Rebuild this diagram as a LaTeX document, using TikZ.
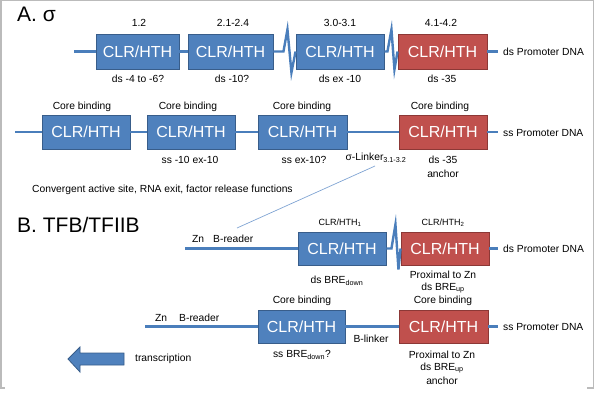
\documentclass[tikz,border=0pt]{standalone}
\usepackage{fontspec}
\setmainfont{Liberation Sans}
\definecolor{boxblue}{HTML}{4F81BD}
\definecolor{boxblueline}{HTML}{385D8A}
\definecolor{boxred}{HTML}{C0504D}
\definecolor{boxredline}{HTML}{8C3836}
\definecolor{wire}{HTML}{4A7EBB}
\definecolor{thinwire}{HTML}{7FA3D3}
\definecolor{frame}{HTML}{BBBBBB}
\tikzset{
  dom/.style={draw=boxblueline, fill=boxblue, line width=0.9pt, text=white, inner sep=0pt,
    font=\fontsize{16}{18}\selectfont},
  domred/.style={dom, draw=boxredline, fill=boxred},
  wireline/.style={draw=wire, line width=2.4pt},
  lab/.style={inner sep=0pt, font=\fontsize{10.3}{12}\selectfont},
  smalllab/.style={inner sep=0pt, font=\fontsize{9}{11}\selectfont},
  title/.style={inner sep=0pt, anchor=west, font=\fontsize{21}{24}\selectfont},
}
\begin{document}
\begin{tikzpicture}[x=1pt,y=-1pt]
\useasboundingbox (0,0) rectangle (595,407);
% frame
\draw[frame, line width=1.2pt] (0,388) -- (5,388);
\draw[frame, line width=1.2pt] (1,388) -- (1,0.6) -- (593.5,0.6) -- (593.5,388) -- (587,388);

% titles
\node[title] (tA) at (17,14) {A. σ};
\node[title] (tB) at (17,225) {B. TFB/TFIIB};

% ---------------- Row 1 ----------------
\node[dom, minimum width=83, minimum height=35] (b11) at (137.5,51.5) {CLR/HTH};
\node[dom, minimum width=85, minimum height=35] (b12) at (230.5,51.5) {CLR/HTH};
\node[dom, minimum width=88, minimum height=35] (b13) at (340,51.5) {CLR/HTH};
\node[domred, minimum width=89, minimum height=35] (b14) at (442.5,51.5) {CLR/HTH};
\coordinate (s1) at (74,51.5);
\coordinate (e1) at (498,51.5);
\draw[wireline] (s1) -- (b11.west);
\draw[wireline] (b11.east) -- (b12.west);
\draw[wireline, line join=miter] (b12.east) -- ++(10,0) -- ++(4,-22) -- ++(4,43) -- (b13.west);
\draw[wireline, line join=miter] (b13.east) -- ++(3,0) -- ++(4,-22) -- ++(3,40) -- (b14.west);
\draw[wireline] (b14.east) -- (e1);
\node[lab, anchor=west] (p1) at (503,52) {ds Promoter DNA};
\node[lab] (t11) at (139,23) {1.2};
\node[lab] (t12) at (233,23) {2.1-2.4};
\node[lab] (t13) at (340,23) {3.0-3.1};
\node[lab] (t14) at (441,23) {4.1-4.2};
\node[lab] (u11) at (138,79) {ds -4 to -6?};
\node[lab] (u12) at (232,79) {ds -10?};
\node[lab] (u13) at (340,79) {ds ex -10};
\node[lab] (u14) at (442,79) {ds -35};

% ---------------- Row 2 ----------------
\node[dom, minimum width=88, minimum height=34] (b21) at (86,132) {CLR/HTH};
\node[dom, minimum width=88, minimum height=34] (b22) at (191,132) {CLR/HTH};
\node[dom, minimum width=89, minimum height=34] (b23) at (302.5,132) {CLR/HTH};
\node[domred, minimum width=88, minimum height=34] (b24) at (443,132) {CLR/HTH};
\coordinate (s2) at (15,132);
\coordinate (e2) at (498,132);
\draw[wireline] (s2) -- (b21.west);
\draw[wireline] (b21.east) -- (b22.west);
\draw[wireline] (b22.east) -- (b23.west);
\draw[wireline] (b23.east) -- (b24.west);
\draw[wireline] (b24.east) -- (e2);
\node[lab, anchor=west] (p2) at (503,133) {ss Promoter DNA};
\node[lab] (t21) at (82,107) {Core binding};
\node[lab] (t22) at (188,107) {Core binding};
\node[lab] (t23) at (302,107) {Core binding};
\node[lab] (t24) at (440,107) {Core binding};
\node[lab] (u22) at (190,160) {ss -10 ex-10};
\node[lab] (u23) at (304,160) {ss ex-10?};
\node[lab] (lk) at (376,158) {σ-Linker\textsubscript{3.1-3.2}};
\node[lab] (u24) at (443,160) {ds -35};
\node[lab] (u24b) at (443,174) {anchor};
\node[lab, anchor=west] (conv) at (32,190) {Convergent active site, RNA exit, factor release functions};
\coordinate (ls) at (375,166);
\coordinate (le) at (237,228);
\draw[thinwire, line width=0.7pt] (ls) -- (le);

% ---------------- Row 3 ----------------
\node[dom, minimum width=88, minimum height=33] (b31) at (342,248.5) {CLR/HTH};
\node[domred, minimum width=88, minimum height=33] (b32) at (445,248.5) {CLR/HTH};
\coordinate (s3) at (185,248.5);
\coordinate (e3) at (498,248.5);
\draw[wireline] (s3) -- (b31.west);
\draw[wireline, line join=miter] (b31.east) -- ++(5,0) -- ++(4,-24) -- ++(3,45) -- (b32.west);
\draw[wireline] (b32.east) -- (e3);
\node[lab, anchor=west] (p3) at (503,249) {ds Promoter DNA};
\node[lab, anchor=west] (z3) at (192,239) {Zn};
\node[lab, anchor=west] (r3) at (213,239) {B-reader};
\node[smalllab] (t31) at (340,223) {CLR/HTH\textsubscript{1}};
\node[smalllab] (t32) at (443,223) {CLR/HTH\textsubscript{2}};
\node[lab] (u31) at (337,281) {ds BRE\textsubscript{down}};
\node[lab] (u32) at (443,275) {Proximal to Zn};
\node[lab] (u32b) at (443,288) {ds BRE\textsubscript{up}};

% ---------------- Row 4 ----------------
\node[dom, minimum width=87, minimum height=33] (b41) at (301.5,326.5) {CLR/HTH};
\node[domred, minimum width=89, minimum height=33] (b42) at (443.5,326.5) {CLR/HTH};
\coordinate (s4) at (145,326.5);
\coordinate (e4) at (498,326.5);
\draw[wireline] (s4) -- (b41.west);
\draw[wireline] (b41.east) -- (b42.west);
\draw[wireline] (b42.east) -- (e4);
\node[lab, anchor=west] (p4) at (503,327) {ss Promoter DNA};
\node[lab, anchor=west] (z4) at (155,318) {Zn};
\node[lab, anchor=west] (r4) at (179,318) {B-reader};
\node[lab] (t41) at (302,301) {Core binding};
\node[lab] (t42) at (443,301) {Core binding};
\node[lab] (bl) at (371,339) {B-linker};
\node[lab] (u41) at (302,355) {ss BRE\textsubscript{down}?};
\node[lab] (u42) at (442,355) {Proximal to Zn};
\node[lab] (u42b) at (442,368) {ds BRE\textsubscript{up}};
\node[lab] (u42c) at (442,381) {anchor};

% transcription arrow
\draw[fill=boxblue, draw=boxblueline, line width=0.8pt, line join=miter]
  (124,353) -- (80,353) -- (80,347) -- (68,359) -- (80,372) -- (80,365) -- (124,365) -- cycle;
\node[lab, anchor=west] (tr) at (135,359) {transcription};
\end{tikzpicture}
\end{document}
